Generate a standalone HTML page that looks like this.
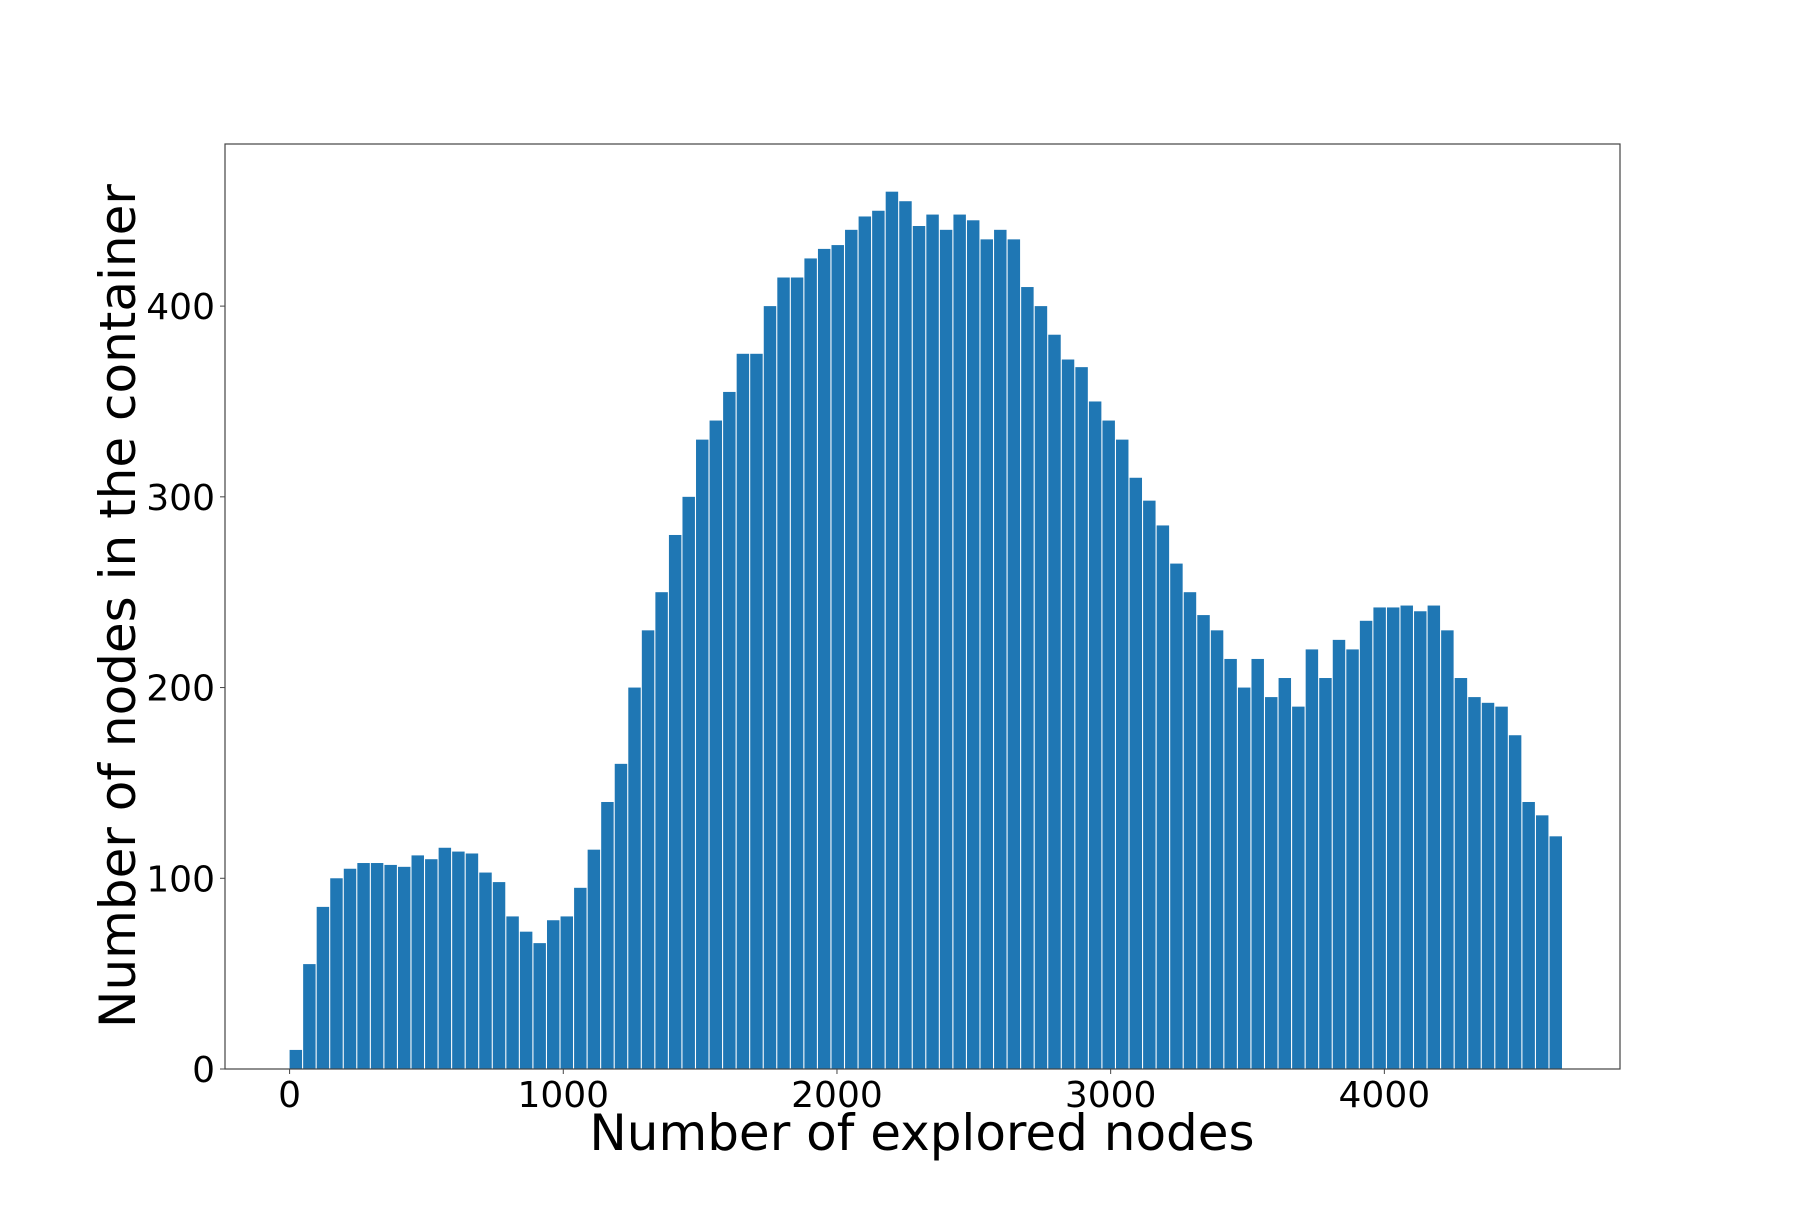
<!DOCTYPE html>
<html><head><meta charset="utf-8"><style>
body{margin:0;background:#fff}
svg text{font-family:"DejaVu Sans","Liberation Sans",sans-serif;fill:#000}
</style></head><body>
<svg id="chart" width="1800" height="1200" viewBox="0 0 1800 1200" xmlns="http://www.w3.org/2000/svg">
<rect width="1800" height="1200" fill="#fff"/>
<g id="bars"></g>
<g id="axes"></g>
<text x="922" y="1150" font-size="50" text-anchor="middle">Number of explored nodes</text>
<text transform="translate(135,606) rotate(-90)" font-size="50" text-anchor="middle">Number of nodes in the container</text>
</svg>
<script>
const binStart = 0;
const binStep = 49.5;
const counts = [10,55,85,100,105,108,108,107,106,112,110,116,114,113,103,98,80,72,66,78,80,95,115,140,160,200,230,250,280,300,330,340,355,375,375,400,415,415,425,430,432,440,447,450,460,455,442,448,440,448,445,435,440,435,410,400,385,372,368,350,340,330,310,298,285,265,250,238,230,215,200,215,195,205,190,220,205,225,220,235,242,242,243,240,243,230,205,195,192,190,175,140,133,122];
const xTicks = [0,1000,2000,3000,4000];
const yTicks = [0,100,200,300,400];

const L=225,R=1620,T=144,B=1069;
const xMin=-236,xMax=4861,yMin=0,yMax=485;
const sx=v=>L+(v-xMin)/(xMax-xMin)*(R-L);
const sy=v=>B-(v-yMin)/(yMax-yMin)*(B-T);
const NS="http://www.w3.org/2000/svg";
const bars=document.getElementById('bars');
counts.forEach((c,i)=>{
  const x0=binStart+i*binStep, x1=x0+binStep*0.92;
  const r=document.createElementNS(NS,'rect');
  
  
  r.setAttribute('x',sx(x0));r.setAttribute('width',sx(x1)-sx(x0));
  r.setAttribute('y',sy(c));r.setAttribute('height',sy(0)-sy(c));
  r.setAttribute('fill','#1f77b4');
  bars.appendChild(r);
});
const ax=document.getElementById('axes');
const fr=document.createElementNS(NS,'rect');


fr.setAttribute('x',L);fr.setAttribute('y',T);fr.setAttribute('width',R-L);fr.setAttribute('height',B-T);
fr.setAttribute('fill','none');fr.setAttribute('stroke','#444');fr.setAttribute('stroke-width','1.2');
ax.appendChild(fr);
xTicks.forEach(v=>{
  const l=document.createElementNS(NS,'line');
  
  
  l.setAttribute('x1',sx(v));l.setAttribute('x2',sx(v));l.setAttribute('y1',B);l.setAttribute('y2',B+5);
  l.setAttribute('stroke','#444');ax.appendChild(l);
  const t=document.createElementNS(NS,'text');
  
  
  t.setAttribute('x',sx(v));t.setAttribute('y',B+38);t.setAttribute('font-size','36');t.setAttribute('text-anchor','middle');
  t.textContent=v;ax.appendChild(t);
});
yTicks.forEach(v=>{
  const l=document.createElementNS(NS,'line');
  
  
  l.setAttribute('x1',L-5);l.setAttribute('x2',L);l.setAttribute('y1',sy(v));l.setAttribute('y2',sy(v));
  l.setAttribute('stroke','#444');ax.appendChild(l);
  const t=document.createElementNS(NS,'text');
  
  
  t.setAttribute('x',L-10);t.setAttribute('y',sy(v)+13);t.setAttribute('font-size','36');t.setAttribute('text-anchor','end');
  t.textContent=v;ax.appendChild(t);
});
</script>
</body></html>
